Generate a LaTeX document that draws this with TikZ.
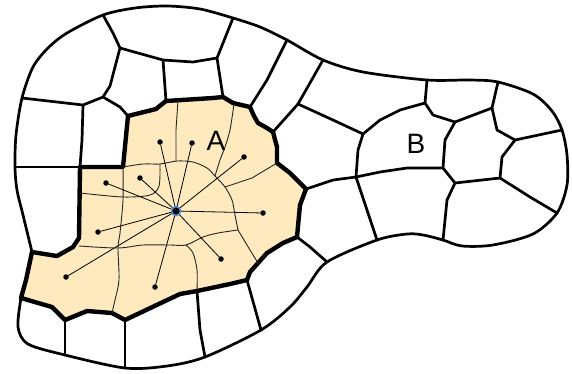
\documentclass[tikz,border=0pt]{standalone}
\usepackage{fontspec}
\setmainfont{Liberation Sans}
\definecolor{zonaA}{RGB}{255,233,190}
\definecolor{anillo}{RGB}{70,140,220}

\begin{document}
\begin{tikzpicture}[x=1pt,y=-1pt,line join=round,line cap=round,
  borde/.style={line width=2.7pt},
  limite/.style={line width=4.4pt},
  sub/.style={line width=0.9pt,black!85},
  rayo/.style={line width=0.8pt},
  punto/.style={circle,fill,inner sep=0pt,minimum size=5.5pt},
  letra/.style={font=\fontsize{28}{28}\selectfont}]
  \useasboundingbox (0,0) rectangle (572,373);
  % zona A
  \draw[limite,fill=zonaA] (128,116) -- (156,109) -- (166,101) -- (213,98) -- (223,97) -- (233,103)
    -- (250,107) -- (254,116) -- (258,123) -- (267,128) -- (273,132) -- (277,147) -- (277,163)
    -- (290,173) -- (306,189) -- (300,205) -- (297,237) -- (283,243) -- (267,253) -- (250,272)
    -- (247,280) -- (230,284) -- (197,291) -- (180,294) -- (163,302) -- (125,320) -- (112,313)
    -- (87,311) -- (65,320) -- (52,307) -- (21,298) -- (26,280) -- (32,252) -- (57,256)
    -- (73,247) -- (79,238) -- (80,167) -- (123,167) -- cycle;
  % subdivisiones de A
  \draw[sub] plot[smooth] coordinates {(123,167) (143,164) (160,164) (177,161) (193,162) (207,168)
    (215,176) (225,187) (232,200) (235,215) (238,230)};
  \draw[sub] (178,100) -- (176,130) -- (176,161);
  \draw[sub] plot[smooth] coordinates {(160,164) (159,186) (150,195) (123,197) (80,193)};
  \draw[sub] plot[smooth] coordinates {(123,167) (123,200) (120,233) (118,248) (119,280) (115,300) (112,313)};
  \draw[sub] plot[smooth] coordinates {(79,246) (118,248) (143,245) (170,245) (186,245) (203,237) (218,233) (238,230)};
  \draw[sub] plot[smooth] coordinates {(186,245) (193,253) (197,270) (197,291)};
  \draw[sub] (238,230) -- (250,250) -- (258,263);
  \draw[sub] plot[smooth] coordinates {(234,104) (230,130) (225,147) (220,160) (215,176)};
  \draw[sub] (277,163) -- (252,178) -- (225,187);
  % radios desde el centro
  \node[punto,minimum size=9pt,draw=anillo,line width=1.6pt] (c) at (176,211) {};
  \foreach \n/\px/\py in {1/106/183,2/140/178,3/160/142,4/192/143,5/244/157,
                          6/263/213,7/221/259,8/155/287,9/66/277,10/98/232}{
    \node[punto] (d\n) at (\px,\py) {};
    \draw[rayo] (c) -- (d\n);
  }
  % celdas
  \draw[borde] (22,98) -- (83,105) -- (103,97) -- (120,107) -- (128,116);
  \draw[borde] (103,15) -- (113,33) -- (120,48) -- (110,86) -- (103,97);
  \draw[borde] (120,48) -- (163,60) -- (193,62) -- (217,58);
  \draw[borde] (163,60) -- (166,101);
  \draw[borde] (233,18) -- (217,58) -- (223,97);
  \draw[borde] (287,40) -- (267,80) -- (250,107);
  \draw[borde] (323,60) -- (298,104) -- (273,132);
  \draw[borde] (298,104) -- (333,120) -- (363,134);
  \draw[borde] (427,80) -- (425,103) -- (433,115) -- (455,122);
  \draw[borde] (425,103) -- (400,110) -- (380,120) -- (363,134);
  \draw[borde] (363,134) -- (358,150) -- (356,177) -- (333,180) -- (306,189);
  \draw[borde] (356,177) -- (380,172) -- (407,168) -- (443,168);
  \draw[borde] (356,177) -- (377,240);
  \draw[borde] (455,122) -- (492,108) -- (498,82);
  \draw[borde] (492,108) -- (497,130) -- (515,140) -- (562,130);
  \draw[borde] (515,140) -- (502,157) -- (500,178);
  \draw[borde] (455,122) -- (445,140) -- (443,168) -- (455,183) -- (500,178);
  \draw[borde] (500,178) -- (530,197) -- (557,213);
  \draw[borde] (455,183) -- (447,200) -- (443,240);
  \draw[borde] (297,237) -- (310,247) -- (327,262);
  \draw[borde] (247,280) -- (261,330);
  \draw[borde] (197,291) -- (200,330) -- (205,357);
  \draw[borde] (125,320) -- (125,368);
  \draw[borde] (65,320) -- (65,355);
  \draw[borde] (15,167) -- (80,167);
  \draw[borde] (83,105) -- (82,140) -- (80,167);
  % contorno exterior
  \draw[borde] plot[smooth] coordinates {(32,252) (23,215) (17,190) (15,167) (16,135) (22,98)
    (33,67) (48,48) (67,33) (103,15) (135,8) (167,6) (200,9) (233,18) (260,27) (287,40)
    (323,60) (363,72) (427,80) (470,80) (498,82) (533,94) (552,111) (562,130) (567,155)
    (567,185) (557,213) (533,234) (493,245) (462,246) (443,240) (423,235) (407,234) (377,240)
    (327,262) (307,287) (290,307) (261,330) (205,357) (167,366) (125,368) (65,355) (28,344)
    (18,327) (21,298)};
  \node[letra] (a) at (216,141) {A};
  \node[letra] (b) at (416,144) {B};
\end{tikzpicture}
\end{document}
